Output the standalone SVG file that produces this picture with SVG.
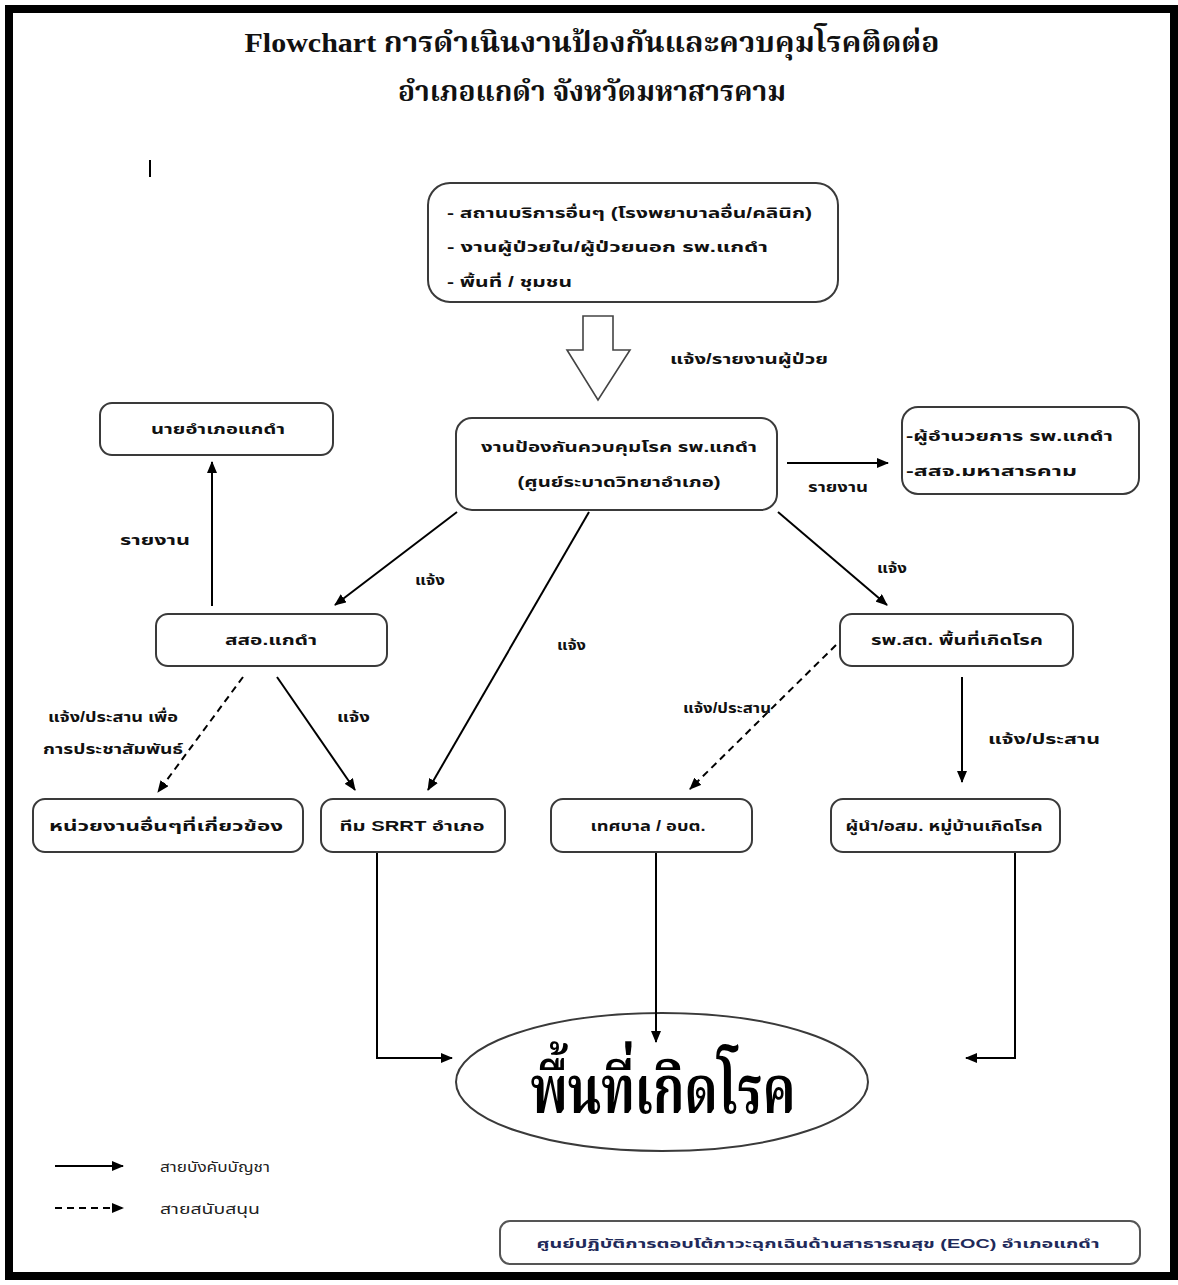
<svg xmlns="http://www.w3.org/2000/svg" width="1178" height="1285" viewBox="0 0 1178 1285">
<defs>
<marker id="ah" viewBox="0 0 12 10" refX="11" refY="5" markerWidth="12" markerHeight="10" markerUnits="userSpaceOnUse" orient="auto">
<path d="M0,0 L12,5 L0,10 Z" fill="#000"/>
</marker>
</defs>
<style>
.box{fill:#fff;stroke:#3a3a3a;stroke-width:2}
.t{font-family:"Liberation Sans","Noto Sans Thai","Noto Sans",sans-serif;font-size:14px;font-weight:bold;fill:#111}
.tc{text-anchor:middle}
.title{font-family:"Liberation Serif","Noto Serif Thai","Noto Sans Thai",serif;font-size:28px;font-weight:bold;fill:#111;text-anchor:middle}
.lg{font-family:"Liberation Sans","Noto Sans Thai",sans-serif;font-size:14px;fill:#222}
.ln{fill:none;stroke:#000;stroke-width:2}
.arr{marker-end:url(#ah)}
.dash{stroke-dasharray:7,5}
</style>
<rect x="9" y="9" width="1165" height="1267" fill="#fff" stroke="#000" stroke-width="8"/>
<g id="title">
<text class="title" x="592" y="52" textLength="695" lengthAdjust="spacingAndGlyphs">Flowchart การดำเนินงานป้องกันและควบคุมโรคติดต่อ</text>
<text class="title" x="592" y="101" textLength="388" lengthAdjust="spacingAndGlyphs">อำเภอแกดำ จังหวัดมหาสารคาม</text>
</g>
<line x1="150" y1="160" x2="150" y2="177" stroke="#000" stroke-width="2"/>
<g id="n-sources">
<rect class="box" x="428" y="183" width="410" height="119" rx="22"/>
<text class="t" x="447" y="218" textLength="365" lengthAdjust="spacingAndGlyphs">- สถานบริการอื่นๆ (โรงพยาบาลอื่น/คลินิก)</text>
<text class="t" x="447" y="252" textLength="321" lengthAdjust="spacingAndGlyphs">- งานผู้ป่วยใน/ผู้ป่วยนอก รพ.แกดำ</text>
<text class="t" x="447" y="287" textLength="125" lengthAdjust="spacingAndGlyphs">- พื้นที่ / ชุมชน</text>
</g>
<g id="n-center">
<rect class="box" x="456" y="418" width="321" height="92" rx="16"/>
<text class="t tc" x="619" y="452" textLength="276" lengthAdjust="spacingAndGlyphs">งานป้องกันควบคุมโรค รพ.แกดำ</text>
<text class="t tc" x="619" y="487" textLength="203" lengthAdjust="spacingAndGlyphs">(ศูนย์ระบาดวิทยาอำเภอ)</text>
</g>
<g id="n-nai">
<rect class="box" x="100" y="403" width="233" height="52" rx="12"/>
<text class="t tc" x="218" y="434" textLength="134" lengthAdjust="spacingAndGlyphs">นายอำเภอแกดำ</text>
</g>
<g id="n-director">
<rect class="box" x="902" y="407" width="237" height="87" rx="16"/>
<text class="t" x="906" y="441" textLength="207" lengthAdjust="spacingAndGlyphs">-ผู้อำนวยการ รพ.แกดำ</text>
<text class="t" x="906" y="476" textLength="171" lengthAdjust="spacingAndGlyphs">-สสจ.มหาสารคาม</text>
</g>
<g id="n-sso">
<rect class="box" x="156" y="614" width="231" height="52" rx="12"/>
<text class="t tc" x="271" y="645" textLength="92" lengthAdjust="spacingAndGlyphs">สสอ.แกดำ</text>
</g>
<g id="n-rpsst">
<rect class="box" x="840" y="614" width="233" height="52" rx="12"/>
<text class="t tc" x="957" y="645" textLength="172" lengthAdjust="spacingAndGlyphs">รพ.สต. พื้นที่เกิดโรค</text>
</g>
<g id="n-other">
<rect class="box" x="33" y="799" width="270" height="53" rx="12"/>
<text class="t tc" x="166" y="831" textLength="234" lengthAdjust="spacingAndGlyphs">หน่วยงานอื่นๆที่เกี่ยวข้อง</text>
</g>
<g id="n-srrt">
<rect class="box" x="321" y="799" width="184" height="53" rx="12"/>
<text class="t tc" x="412" y="831" textLength="145" lengthAdjust="spacingAndGlyphs">ทีม SRRT อำเภอ</text>
</g>
<g id="n-tessaban">
<rect class="box" x="551" y="799" width="201" height="53" rx="12"/>
<text class="t tc" x="648" y="831" textLength="115" lengthAdjust="spacingAndGlyphs">เทศบาล / อบต.</text>
</g>
<g id="n-leader">
<rect class="box" x="831" y="799" width="229" height="53" rx="12"/>
<text class="t tc" x="944" y="831" textLength="197" lengthAdjust="spacingAndGlyphs">ผู้นำ/อสม. หมู่บ้านเกิดโรค</text>
</g>
<g id="n-area">
<ellipse cx="662" cy="1082" rx="206" ry="69" fill="#fff" stroke="#3a3a3a" stroke-width="2"/>
<text x="663" y="1113" text-anchor="middle" font-family="Liberation Serif,'Noto Serif Thai','Noto Sans Thai',serif" font-size="68" font-weight="bold" fill="#000" textLength="265" lengthAdjust="spacingAndGlyphs">พื้นที่เกิดโรค</text>
</g>
<g id="connectors">
<polygon points="583,316 613,316 613,350 630,350 598,400 567,350 583,350" fill="#fff" stroke="#444" stroke-width="1.6"/>
<line class="ln arr" x1="212" y1="606" x2="212" y2="462"/>
<line class="ln arr" x1="787" y1="463" x2="888" y2="463"/>
<line class="ln arr" x1="457" y1="512" x2="335" y2="605"/>
<line class="ln arr" x1="589" y1="512" x2="428" y2="790"/>
<line class="ln arr" x1="778" y1="512" x2="887" y2="605"/>
<line class="ln arr dash" x1="243" y1="677" x2="158" y2="792"/>
<line class="ln arr" x1="277" y1="677" x2="355" y2="790"/>
<line class="ln arr dash" x1="836" y1="645" x2="690" y2="789"/>
<line class="ln arr" x1="962" y1="677" x2="962" y2="782"/>
<polyline class="ln arr" points="377,853 377,1058 452,1058"/>
<line class="ln arr" x1="656" y1="853" x2="656" y2="1042"/>
<polyline class="ln arr" points="1015,853 1015,1058 966,1058"/>
</g>
<g id="labels">
<text class="t" x="670" y="364" textLength="158" lengthAdjust="spacingAndGlyphs">แจ้ง/รายงานผู้ป่วย</text>
<text class="t" x="120" y="545" textLength="70" lengthAdjust="spacingAndGlyphs">รายงาน</text>
<text class="t" x="808" y="492" textLength="60" lengthAdjust="spacingAndGlyphs">รายงาน</text>
<text class="t" x="415" y="585" textLength="30" lengthAdjust="spacingAndGlyphs">แจ้ง</text>
<text class="t" x="557" y="650" textLength="29" lengthAdjust="spacingAndGlyphs">แจ้ง</text>
<text class="t" x="877" y="573" textLength="30" lengthAdjust="spacingAndGlyphs">แจ้ง</text>
<text class="t" x="48" y="722" textLength="130" lengthAdjust="spacingAndGlyphs">แจ้ง/ประสาน เพื่อ</text>
<text class="t" x="43" y="754" textLength="140" lengthAdjust="spacingAndGlyphs">การประชาสัมพันธ์</text>
<text class="t" x="337" y="722" textLength="33" lengthAdjust="spacingAndGlyphs">แจ้ง</text>
<text class="t" x="683" y="713" textLength="88" lengthAdjust="spacingAndGlyphs">แจ้ง/ประสาน</text>
<text class="t" x="988" y="744" textLength="112" lengthAdjust="spacingAndGlyphs">แจ้ง/ประสาน</text>
</g>
<g id="legend">
<line class="ln arr" x1="55" y1="1166" x2="123" y2="1166"/>
<text class="lg" x="160" y="1172" textLength="110" lengthAdjust="spacingAndGlyphs">สายบังคับบัญชา</text>
<line class="ln arr dash" x1="55" y1="1208" x2="123" y2="1208"/>
<text class="lg" x="160" y="1214" textLength="100" lengthAdjust="spacingAndGlyphs">สายสนับสนุน</text>
</g>
<g id="n-eoc">
<rect x="500" y="1221" width="640" height="43" rx="10" fill="#fff" stroke="#555" stroke-width="2"/>
<text x="818" y="1248" text-anchor="middle" font-family="Liberation Sans,'Noto Sans Thai',sans-serif" font-size="12" font-weight="bold" fill="#1f2a5a" textLength="563" lengthAdjust="spacingAndGlyphs">ศูนย์ปฏิบัติการตอบโต้ภาวะฉุกเฉินด้านสาธารณสุข (EOC) อำเภอแกดำ</text>
</g>
</svg>
